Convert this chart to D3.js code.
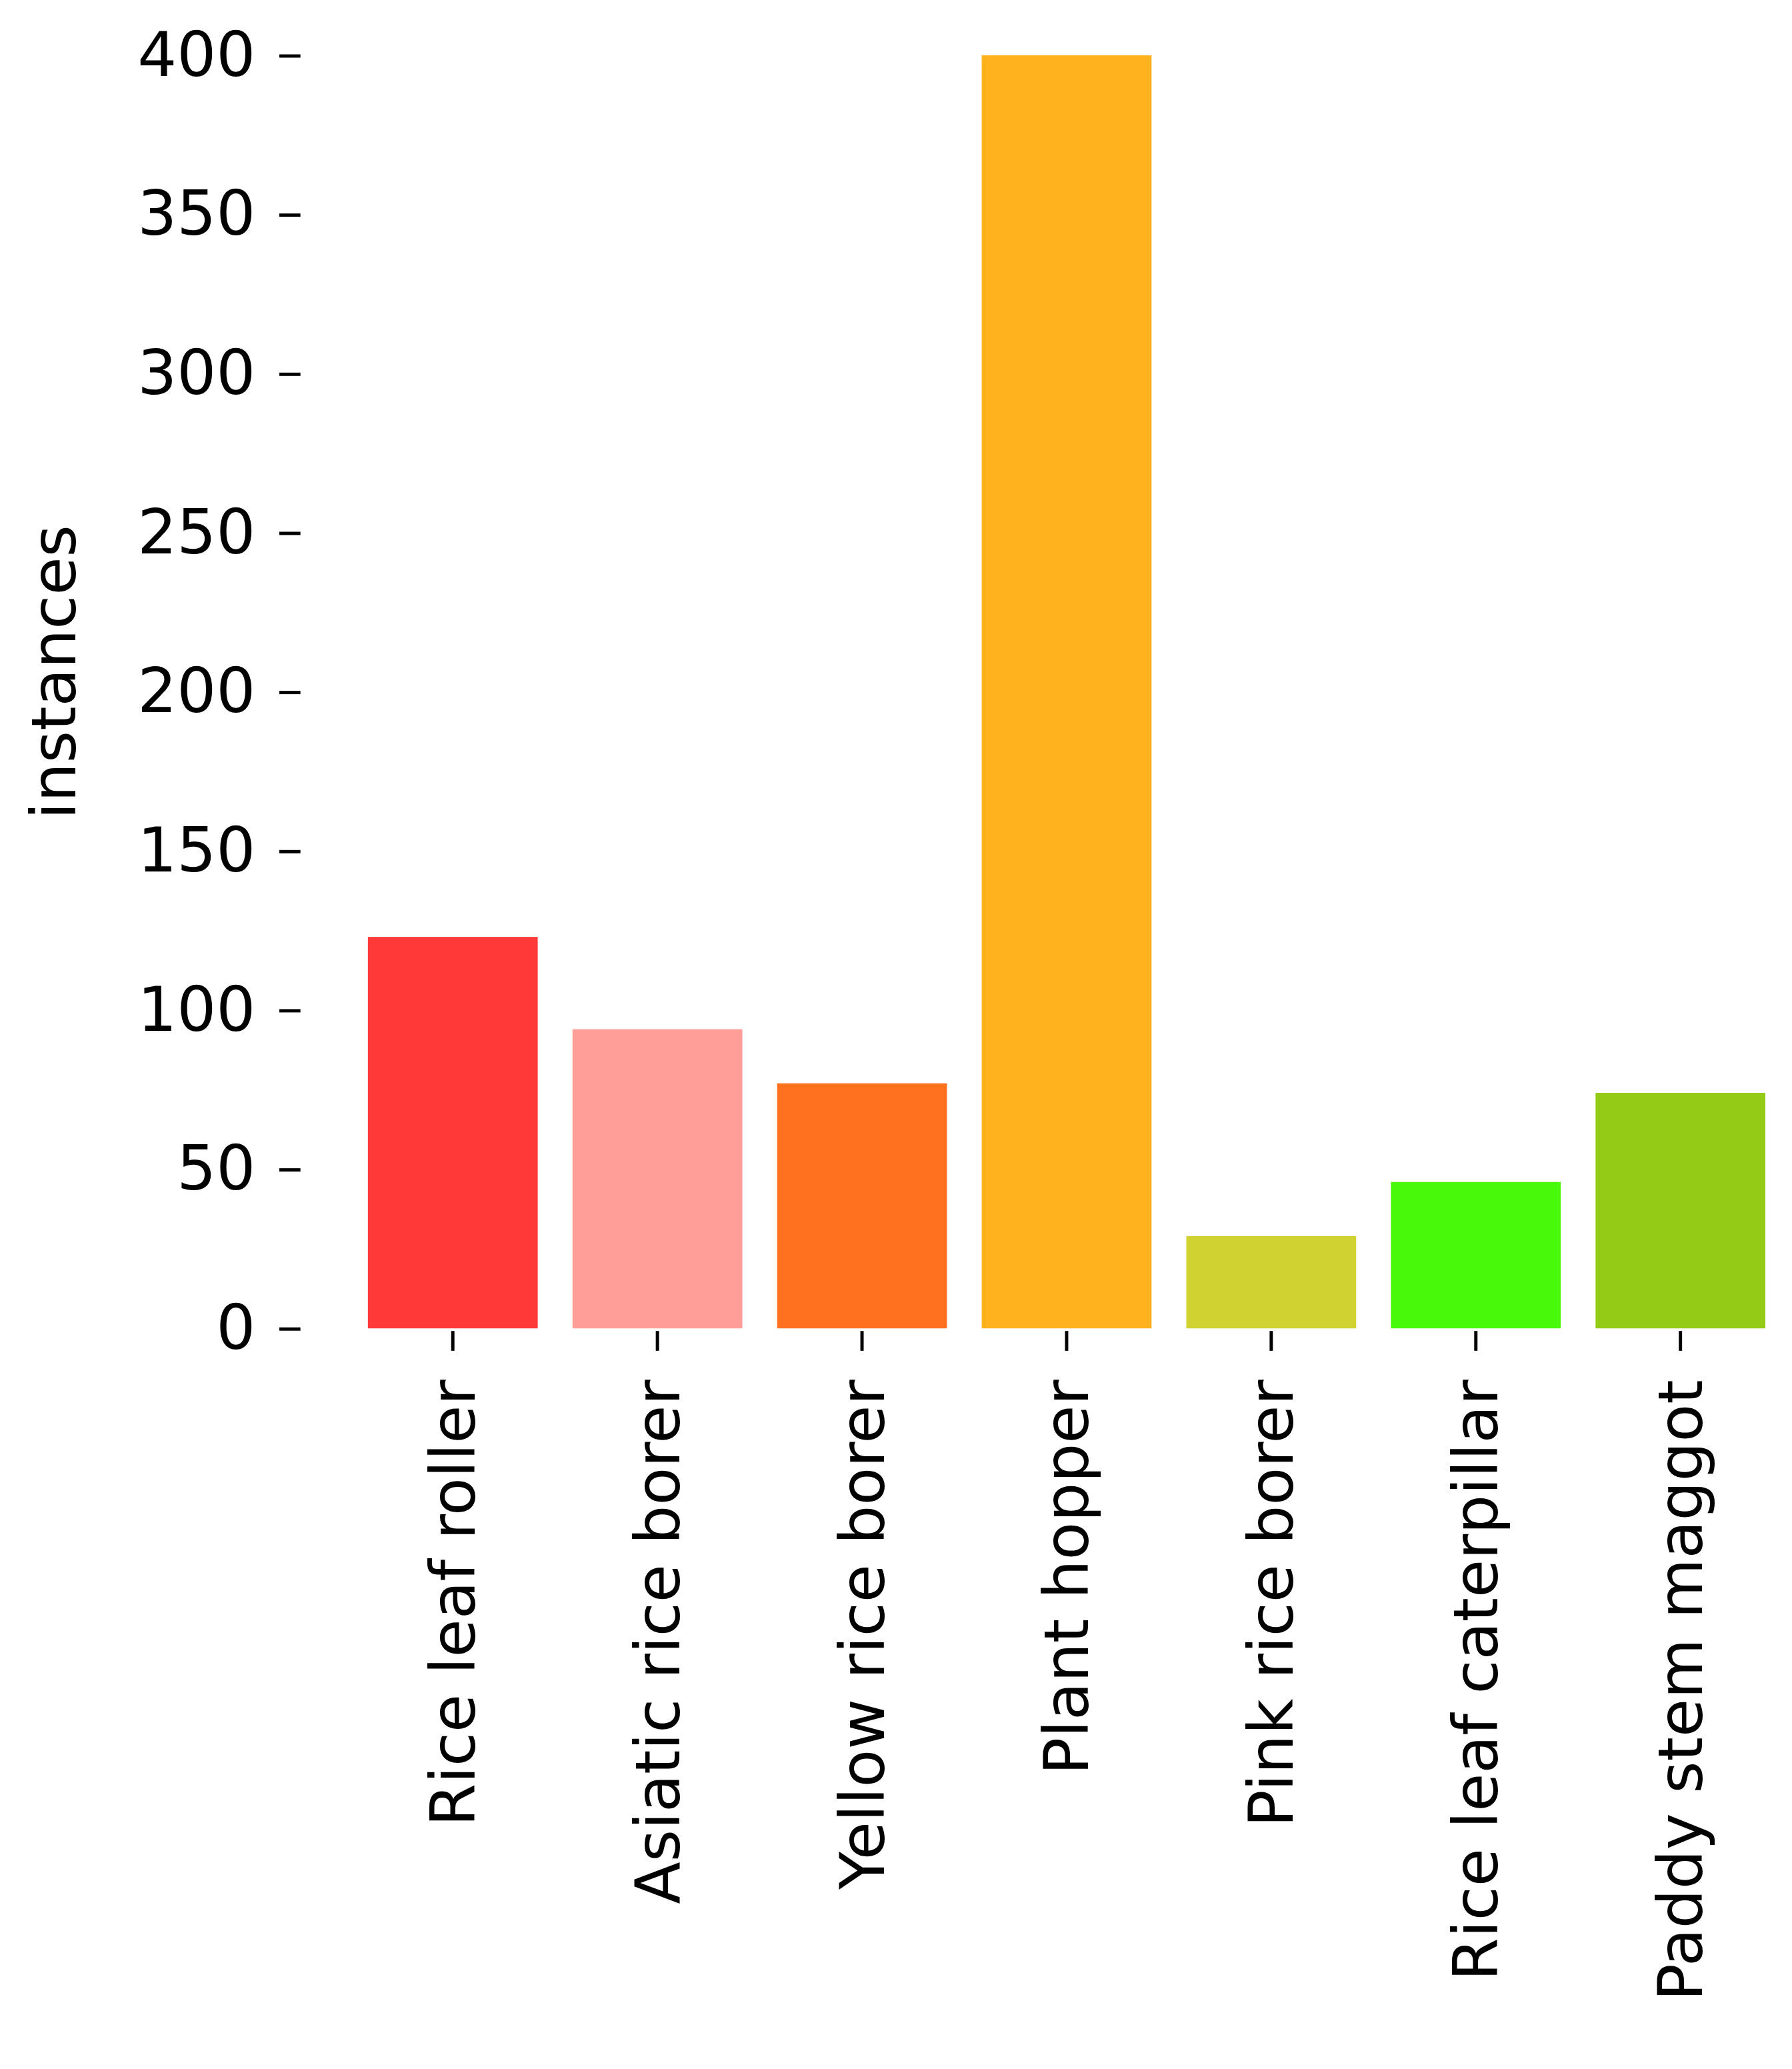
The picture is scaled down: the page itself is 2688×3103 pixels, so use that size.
<!DOCTYPE html>
<html><head><meta charset="utf-8">
<script src="https://cdn.jsdelivr.net/npm/d3@7"></script>
<style>body{margin:0;background:#fff}</style>
</head><body>
<script>
var categories = ["Rice leaf roller", "Asiatic rice borer", "Yellow rice borer", "Plant hopper",
  "Pink rice borer", "Rice leaf caterpillar", "Paddy stem maggot"];
var instances = [123, 94, 77, 400, 29, 46, 74];
var barColors = ["#FF3838", "#FF9D97", "#FF701F", "#FFB21D", "#CFD231", "#48F90A", "#92CC17"];
var yTicks = [0, 50, 100, 150, 200, 250, 300, 350, 400];

var svg = d3.select("body").append("svg")
  .attr("width", 2688).attr("height", 3103)
  .attr("viewBox", "0 0 1360 1570")
  .style("font-family", "DejaVu Sans");

var x = d3.scaleBand().domain(categories).range([266, 1353]).paddingInner(0.17).paddingOuter(0.085);
var y = d3.scaleLinear().domain([0, 400]).range([1008, 42]);

svg.selectAll("rect.bar")
  .data(categories)
  .enter()
  .append("rect")
    .attr("class", "bar")
    .attr("x", d => x(d))
    .attr("width", x.bandwidth())
    .attr("y", (d, i) => y(instances[i]))
    .attr("height", (d, i) => y(0) - y(instances[i]))
    .attr("fill", (d, i) => barColors[i]);

var yAxis = svg.append("g")
  .attr("transform", "translate(228,0)")
  .call(d3.axisLeft(y).tickValues(yTicks).tickSize(16).tickPadding(18));
yAxis.select(".domain").remove();
yAxis.selectAll("line").attr("stroke", "#000").attr("stroke-width", 2.5);
yAxis.selectAll("text").attr("font-size", 47).attr("fill", "#000").attr("font-family", "DejaVu Sans");

var xAxis = svg.append("g")
  .attr("transform", "translate(0,1010)")
  .call(d3.axisBottom(x).tickSize(15).tickPadding(20));
xAxis.select(".domain").remove();
xAxis.selectAll("line").attr("stroke", "#000").attr("stroke-width", 2.5);
xAxis.selectAll("text")
  .attr("font-size", 47).attr("fill", "#000").attr("font-family", "DejaVu Sans")
  .attr("transform", "rotate(-90)")
  .attr("text-anchor", "end")
  .attr("x", -37).attr("y", 0).attr("dy", "0.35em");

svg.append("text")
  .attr("transform", "translate(57,510) rotate(-90)")
  .attr("text-anchor", "middle")
  .attr("font-size", 47)
  .text("instances");
</script>
</body></html>
